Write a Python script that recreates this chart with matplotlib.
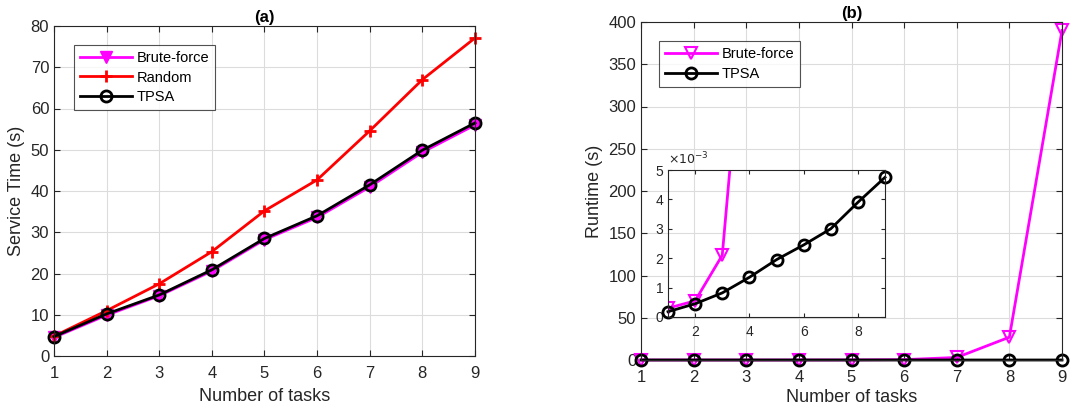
import matplotlib.pyplot as plt

plt.rcParams['font.family'] = ['Liberation Sans', 'DejaVu Sans']

tasks = [1, 2, 3, 4, 5, 6, 7, 8, 9]

# (a) service time
svc_brute = [4.5, 9.9, 14.6, 20.6, 28.2, 33.6, 41.0, 49.4, 56.0]
svc_random = [4.8, 11.0, 17.5, 25.3, 35.2, 42.7, 54.6, 67.0, 77.1]
svc_tpsa = [4.7, 10.2, 14.8, 20.9, 28.5, 34.0, 41.5, 49.9, 56.5]

# (b) runtime
rt_brute = [0.0003, 0.00055, 0.0021, 0.0125, 0.07, 0.45, 3.0, 27.0, 390.0]
rt_tpsa = [0.00018, 0.00045, 0.00082, 0.00135, 0.00195, 0.00245, 0.0030, 0.0039, 0.00475]

MAG = '#ff00ff'
TXT = '#262626'


def style_ax(ax, fs=11):
    ax.grid(True, color='#dcdcdc', linewidth=0.8)
    ax.set_axisbelow(True)
    ax.tick_params(direction='in', top=True, right=True, colors=TXT,
                   labelsize=fs, length=4)
    ax.tick_params(axis='x', pad=7)
    for s in ax.spines.values():
        s.set_color(TXT)
        s.set_linewidth(0.8)


fig = plt.figure(figsize=(10.91, 4.13), dpi=100)
W, H = 1091, 413

ax1 = fig.add_axes([54 / W, 1 - 356 / H, (475 - 54) / W, (356 - 26) / H])
ax1.plot(tasks, svc_brute, color=MAG, lw=2, marker='v', ms=9, label='Brute-force',
         clip_on=False)
ax1.plot(tasks, svc_random, color='red', lw=2, marker='+', ms=9, mew=2, label='Random',
         clip_on=False)
ax1.plot(tasks, svc_tpsa, color='black', lw=2, marker='o', ms=8, mfc='none', mew=2,
         label='TPSA', clip_on=False)
ax1.set_xlim(1, 9)
ax1.set_ylim(0, 80)
ax1.set_xticks(tasks)
ax1.set_yticks(range(0, 81, 10))
style_ax(ax1, 12)
ax1.set_xlabel('Number of tasks', fontsize=13, color=TXT, labelpad=5)
ax1.set_ylabel('Service Time (s)', fontsize=13, color=TXT, labelpad=4)
ax1.set_title('(a)', fontsize=12, fontweight='bold', pad=3)
leg = ax1.legend(loc='upper left', bbox_to_anchor=(0.03, 0.965), fontsize=10.5,
                 fancybox=False, edgecolor=TXT, handlelength=3.6, borderpad=0.4,
                 labelspacing=0.4, handletextpad=0.3)
leg.get_frame().set_linewidth(0.8)

ax2 = fig.add_axes([641 / W, 1 - 360 / H, (1062 - 641) / W, (360 - 22) / H])
ax2.plot(tasks, rt_brute, color=MAG, lw=2, marker='v', ms=9, mfc='none', mew=1.5,
         label='Brute-force', clip_on=False)
ax2.plot(tasks, rt_tpsa, color='black', lw=2, marker='o', ms=8, mfc='none', mew=2,
         label='TPSA', clip_on=False)
ax2.set_xlim(1, 9)
ax2.set_ylim(0, 400)
ax2.set_xticks(tasks)
ax2.set_yticks(range(0, 401, 50))
style_ax(ax2, 12)
ax2.set_xlabel('Number of tasks', fontsize=13, color=TXT, labelpad=3)
ax2.set_ylabel('Runtime (s)', fontsize=13, color=TXT, labelpad=4)
ax2.set_title('(b)', fontsize=12, fontweight='bold', pad=3)
leg2 = ax2.legend(loc='upper left', bbox_to_anchor=(0.025, 0.965), fontsize=10.5,
                  fancybox=False, edgecolor=TXT, handlelength=3.6, borderpad=0.4,
                  labelspacing=0.4, handletextpad=0.3)
leg2.get_frame().set_linewidth(0.8)

# inset
ins = fig.add_axes([668 / W, 1 - 317 / H, (885 - 668) / W, (317 - 170) / H])
ins.set_facecolor('none')
ins.plot(tasks, rt_brute, color=MAG, lw=2, marker='v', ms=9, mfc='none', mew=1.5)
ins.plot(tasks, rt_tpsa, color='black', lw=2, marker='o', ms=8, mfc='none', mew=2,
         clip_on=False)
ins.set_xlim(1, 9)
ins.set_ylim(0, 0.005)
ins.set_xticks([2, 4, 6, 8])
ins.set_yticks([0, 0.001, 0.002, 0.003, 0.004, 0.005])
ins.set_yticklabels(['0', '1', '2', '3', '4', '5'])
ins.tick_params(direction='in', top=True, right=True, colors=TXT, labelsize=10,
                length=3)
ins.tick_params(axis='x', pad=6)
for s in ins.spines.values():
    s.set_color(TXT)
    s.set_linewidth(0.8)
ins.text(0.0, 1.02, r'$\times10^{-3}$', transform=ins.transAxes, fontsize=9,
         color=TXT, ha='left', va='bottom')

fig.savefig('out.png', dpi=100)
